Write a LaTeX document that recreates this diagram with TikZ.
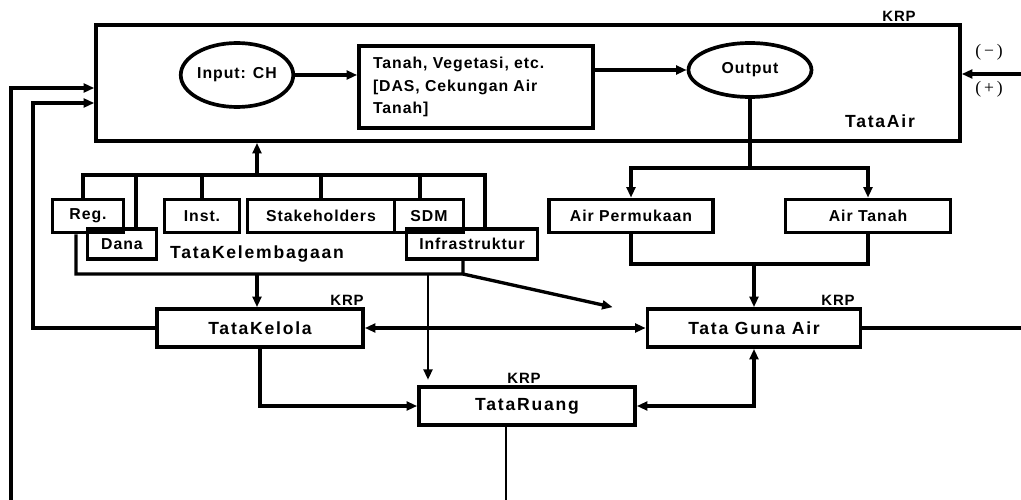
\documentclass[tikz,border=0pt]{standalone}
\usepackage{fontspec}
\setmainfont{Liberation Sans}
\newfontfamily\boxfont[LetterSpace=6]{Liberation Sans}
\newfontfamily\tatafont[LetterSpace=10]{Liberation Sans}
\newfontfamily\signfont{Liberation Serif}
\usetikzlibrary{shapes.geometric,arrows.meta}

\tikzset{
	box/.style={draw, line width=2.1pt, inner sep=0pt, font=\boxfont\bfseries\fontsize{9}{11}\selectfont},
	oval/.style={box, ellipse},
	tatabox/.style={box, minimum height=0.76cm, font=\tatafont\bfseries\fontsize{10}{12}\selectfont},
	tatalabel/.style={inner sep=0pt, font=\tatafont\bfseries\fontsize{10}{12}\selectfont},
	krp/.style={inner sep=0pt, font=\boxfont\bfseries\fontsize{8.5}{10}\selectfont},
	sign/.style={inner sep=0pt, font=\signfont\fontsize{10}{12}\selectfont},
	link/.style={line width=1.9pt},
	thinlink/.style={line width=1.65pt},
	>={Triangle[length=6pt,width=5pt]}
}

\begin{document}
\begin{tikzpicture}[x=0.02cm, y=-0.02cm]
				\useasboundingbox (0,0) rectangle (1021,500);
				
				% Tata Air
				\node[box, minimum width=17.28cm, minimum height=2.32cm] (air) at (528,83) {};
				\node[krp] (krpair) at (899,16) {KRP};
				\node[oval, minimum width=2.18cm, minimum height=1.28cm] (input) at (237,75) {Input: CH};
				\node[box, minimum width=4.68cm, minimum height=1.64cm, text width=4.12cm, align=left,
					font=\boxfont\bfseries\fontsize{9}{12.75}\selectfont] (tanah) at (476,87)
					{Tanah, Vegetasi, etc.\\ {[}DAS, Cekungan Air\\ Tanah{]}};
				\node[oval, minimum width=2.46cm, minimum height=1.08cm] (output) at (750,70) {Output};
				\node[tatalabel] (tataair) at (880,121) {TataAir};
				\node[sign] (minus) at (989,52) {(\,−\,)};
				\node[sign] (plus) at (989,89) {(\,+\,)};
				
				% Air Permukaan, Air Tanah
				\node[box, minimum width=3.28cm, minimum height=0.66cm] (perm) at (631,216) {Air Permukaan};
				\node[box, minimum width=3.3cm, minimum height=0.66cm] (airtanah) at (868,216) {Air Tanah};
				
				% Tata Kelembagaan
				\node[box, minimum width=1.42cm, minimum height=0.66cm] (reg) at (88,216) {Reg.};
				\node[box, minimum width=1.38cm, minimum height=0.6cm] (dana) at (122,244) {Dana};
				\node[box, minimum width=1.5cm, minimum height=0.66cm] (inst) at (202,216) {Inst.};
				\node[box, minimum width=2.94cm, minimum height=0.66cm] (stake) at (321,216) {Stakeholders};
				\node[box, minimum width=1.38cm, minimum height=0.66cm] (sdm) at (429,216) {SDM};
				\node[box, minimum width=2.62cm, minimum height=0.6cm] (infra) at (472,244) {Infrastruktur};
				\node[tatalabel] (kelembagaan) at (257,254) {TataKelembagaan};
				
				% Tata Kelola, Tata Guna Air, Tata Ruang
				\node[tatabox, minimum width=4.12cm] (kelola) at (260,328) {TataKelola};
				\node[tatabox, minimum width=4.26cm] (guna) at (754,328) {Tata Guna Air};
				\node[tatabox, minimum width=4.32cm] (ruang) at (527,406) {TataRuang};
				\node[krp] (krpkelola) at (347,300) {KRP};
				\node[krp] (krpguna) at (838,300) {KRP};
				\node[krp] (krpruang) at (524,378) {KRP};
				
				% Bends and free ends
				\coordinate (obus) at (750,168);
				\coordinate (abus) at (754,264);
				\coordinate (kbus) at (257,175);
				\coordinate (lbus) at (257,274);
				\coordinate (icorner) at (463,274);
				\coordinate (rdrop) at (428,274);
				\coordinate (fbout) at (11,500);
				\coordinate (fbin) at (33,103);
				\coordinate (tedge) at (1021,74);
				\coordinate (redge) at (1021,0);
				\coordinate (bedge) at (506,500);
				\coordinate (regtop) at ([xshift=-0.1cm]reg.north);
				\coordinate (danatop) at ([xshift=0.28cm]dana.north);
				\coordinate (sdmtop) at ([xshift=-0.18cm]sdm.north);
				\coordinate (infratop) at ([xshift=0.26cm]infra.north);
				\coordinate (regbot) at ([xshift=-0.24cm]reg.south);
				\coordinate (infrabot) at ([xshift=-0.18cm]infra.south);
				\coordinate (gunatip) at ([xshift=-0.66cm]guna.north west);
				
				% Inside Tata Air
				\draw[link,->] (input.east) -- (input.east -| tanah.west);
				\draw[link,->] (output.west -| tanah.east) -- (output.west);
				\draw[link,->] (tedge) -- (tedge -| air.east);
				
				% Output to the water
				\draw[link] (output.south) -- (obus);
				\draw[link,->] (obus) -| (perm.north);
				\draw[link,->] (obus) -| (airtanah.north);
				\draw[link] (perm.south) |- (abus);
				\draw[link] (airtanah.south) |- (abus);
				\draw[link,->] (abus) -- (abus |- guna.north);
				
				% Kelembagaan bus
				\draw[link] (regtop) |- (kbus) -| (infratop);
				\foreach \n in {danatop, inst.north, stake.north, sdmtop}
					\draw[link] (\n) -- (\n |- kbus);
				\draw[link,->] (kbus) -- (kbus |- air.south);
				\draw[link] (regbot) |- (icorner) -- (infrabot);
				\draw[link,->] (lbus) -- (lbus |- kelola.north);
				\draw[thinlink,->,shorten >=3pt] (rdrop) -- (rdrop |- ruang.north);
				\draw[link,->] (icorner) -- (gunatip);
				
				% Feedback lines
				\draw[link,->] (fbout) |- ([yshift=-0.1cm]air.west);
				\draw[link,->] (kelola.west) -| (fbin) -- (fbin -| air.west);
				\draw[link] (guna.east) -- (guna.east -| redge);
				\draw[link,<->] (kelola.east) -- (guna.west);
				\draw[link,->] (kelola.south) |- (ruang.west);
				\draw[link,<->] (ruang.east) -| (guna.south);
				\draw[thinlink] (bedge |- ruang.south) -- (bedge);
			\end{tikzpicture}
\end{document}
